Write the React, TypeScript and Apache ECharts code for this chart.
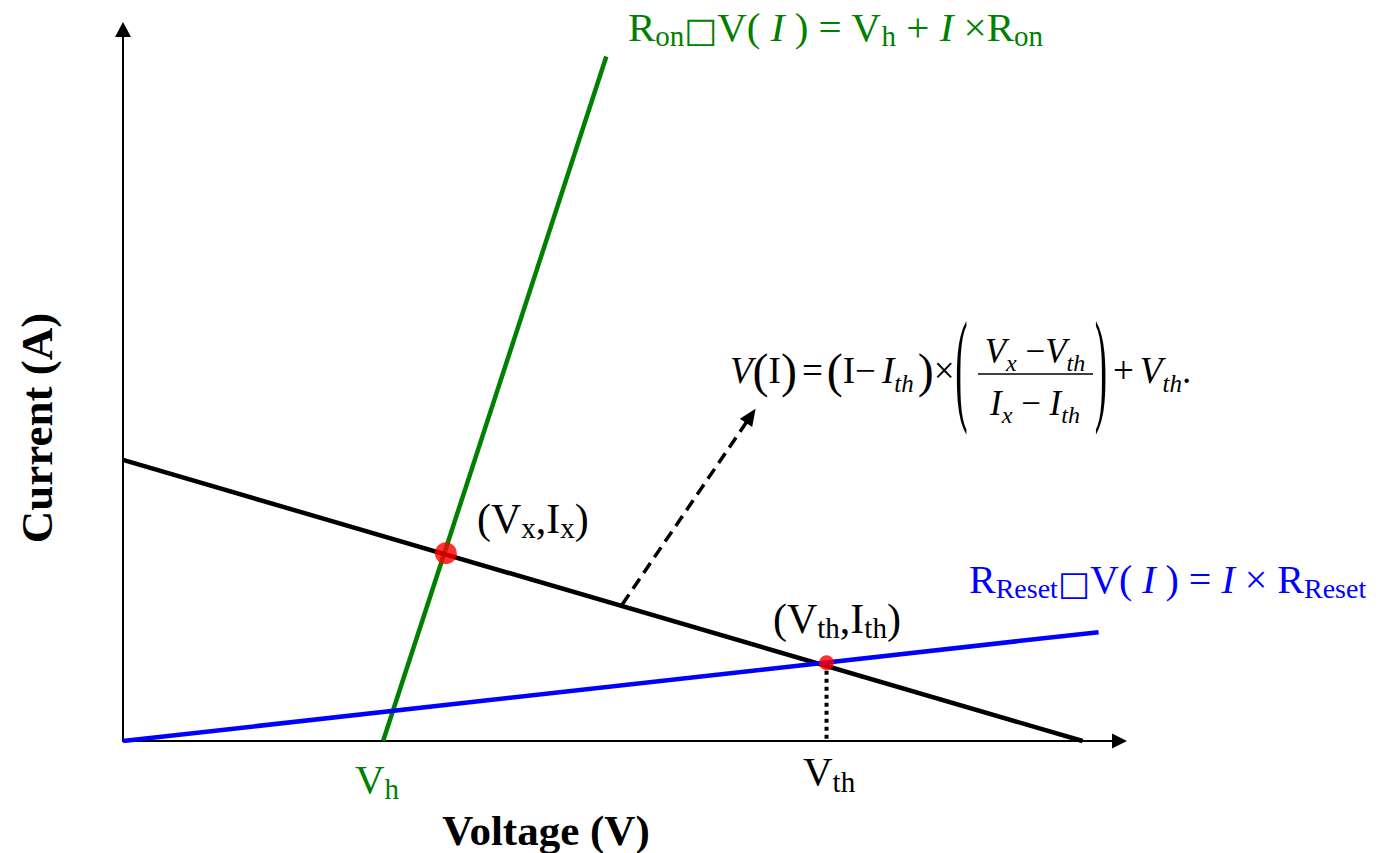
import React, { useEffect, useRef } from "react";
import * as echarts from "echarts";

// ---- data (chart units: Voltage 0..10, Current 0..10) ----
const axisMaxV = 10;
const axisMaxI = 10;
const ronV = [2.61, 4.85];
const ronI = [0, 9.62];
const loadV = [0, 9.63];
const loadI = [3.95, 0];
const resetV = [0, 9.79];
const resetI = [0, 1.53];
const pointX = [3.24, 2.64]; // (Vx, Ix)
const pointTh = [7.06, 1.1]; // (Vth, Ith)
const arrowFrom = [5.01, 1.92];
const arrowTo = [6.3, 4.57];

const FONT = '"Liberation Serif", "Times New Roman", serif';
const GREEN = "#008000";
const BLUE = "#0000ff";
const RED = "#ff0000";
const BLACK = "#000000";

function labelRich(color: string, S: number, s: number, p: number) {
  return {
    n: { fontFamily: FONT, fontSize: S, fill: color, verticalAlign: "bottom", padding: [0, 0, p, 0] },
    i: { fontFamily: FONT, fontSize: S, fontStyle: "italic", fill: color, verticalAlign: "bottom", padding: [0, 0, p, 0] },
    s: { fontFamily: FONT, fontSize: s, fill: color, verticalAlign: "bottom" },
    si: { fontFamily: FONT, fontSize: s, fontStyle: "italic", fill: color, verticalAlign: "bottom" },
    b: { fontFamily: '"DejaVu Sans", sans-serif', fontSize: S * 0.85, fill: color, verticalAlign: "bottom", padding: [0, 0, p, 0] },
  };
}

function mathRich(S: number, s: number, p: number, P: number, pp: number) {
  const base = labelRich(BLACK, S, s, p) as any;
  base.pr = { fontFamily: FONT, fontSize: P, fill: BLACK, verticalAlign: "bottom", padding: [0, 0, pp, 0] };
  base.ng = { fontFamily: FONT, fontSize: S, fill: BLACK, verticalAlign: "bottom", padding: [0, 0, p, 5] };
  base.prg = { fontFamily: FONT, fontSize: P, fill: BLACK, verticalAlign: "bottom", padding: [0, 0, pp, 4] };
  base.ig = { fontFamily: FONT, fontSize: S, fontStyle: "italic", fill: BLACK, verticalAlign: "bottom", padding: [0, 0, p, 6] };
  return base;
}

function txt(x: number, y: number, text: string, rich: any, align = "left", vAlign = "bottom", extra: any = {}) {
  return {
    type: "text",
    x,
    y,
    silent: true,
    ...extra,
    style: {
      text,
      rich,
      fill: BLACK,
      font: `40px ${FONT}`,
      align,
      verticalAlign: vAlign,
      textAlign: align,
      textVerticalAlign: vAlign,
    },
  };
}

function plain(x: number, y: number, text: string, font: string, align = "center", vAlign = "middle", extra: any = {}) {
  return {
    type: "text",
    x,
    y,
    silent: true,
    ...extra,
    style: {
      text,
      fill: BLACK,
      font,
      align,
      verticalAlign: vAlign,
      textAlign: align,
      textVerticalAlign: vAlign,
    },
  };
}

export default function App() {
  const ref = useRef<HTMLDivElement>(null);
  useEffect(() => {
    const chart = echarts.init(ref.current!, null, { renderer: "svg" });
    const greenRich = labelRich(GREEN, 41, 29, 3);
    const blueRich = labelRich(BLUE, 40, 28, 3);
    const blackRich = labelRich(BLACK, 42, 29, 3);
    const vhRich = labelRich(GREEN, 41, 29, 4);
    const vthRich = labelRich(BLACK, 41, 29, 5);
    const formRich = mathRich(37, 25, 7, 48, 2);
    const fracRich = labelRich(BLACK, 35, 24, 6);

    const option: any = {
      animation: false,
      backgroundColor: "#ffffff",
      grid: { left: 123, right: 258.5, top: 29.5, bottom: 112 },
      xAxis: {
        type: "value",
        min: 0,
        max: axisMaxV,
        axisLine: {
          show: true,
          onZero: false,
          symbol: ["none", "triangle"],
          symbolSize: [15, 15],
          lineStyle: { color: BLACK, width: 2 },
        },
        axisTick: { show: false },
        axisLabel: { show: false },
        splitLine: { show: false },
      },
      yAxis: {
        type: "value",
        min: 0,
        max: axisMaxI,
        axisLine: {
          show: true,
          onZero: false,
          symbol: ["none", "triangle"],
          symbolSize: [16, 15],
          lineStyle: { color: BLACK, width: 2 },
        },
        axisTick: { show: false },
        axisLabel: { show: false },
        splitLine: { show: false },
      },
      series: [
        {
          name: "Ron",
          type: "line",
          data: ronV.map((v, k) => [v, ronI[k]]),
          symbol: "none",
          lineStyle: { color: GREEN, width: 4.5 },
          z: 3,
        },
        {
          name: "RReset",
          type: "line",
          data: resetV.map((v, k) => [v, resetI[k]]),
          symbol: "none",
          lineStyle: { color: BLUE, width: 4.5 },
          z: 4,
        },
        {
          name: "Load",
          type: "line",
          data: loadV.map((v, k) => [v, loadI[k]]),
          symbol: "none",
          lineStyle: { color: BLACK, width: 4.5 },
          z: 3,
          markLine: {
            silent: true,
            symbol: ["none", "triangle"],
            symbolSize: [15, 17],
            label: { show: false },
            lineStyle: { color: BLACK, width: 3.5, type: [12, 7] },
            data: [[{ coord: arrowFrom }, { coord: arrowTo }]],
          },
        },
        {
          name: "Vth drop",
          type: "line",
          data: [
            [pointTh[0], pointTh[1]],
            [pointTh[0], 0],
          ],
          symbol: "none",
          lineStyle: { color: BLACK, width: 4, type: [4, 4] },
          z: 2,
        },
        {
          name: "points",
          type: "scatter",
          data: [
            { value: pointX, symbolSize: 22 },
            { value: pointTh, symbolSize: 15 },
          ],
          itemStyle: { color: RED },
          z: 10,
        },
      ],
      graphic: [
        txt(628, 50.5, "{n|R}{s|on}{b|□}{n|V( }{i|I}{n| ) = V}{s|h}{n| + }{i|I}{n| ×R}{s|on}", greenRich),
        txt(969, 602.5, "{n|R}{s|Reset}{b|□}{n|V( }{i|I}{n| ) = }{i|I}{n| × R}{s|Reset}", blueRich),
        txt(477, 542.5, "{n|(V}{s|x}{n|,I}{s|x}{n|)}", blackRich),
        txt(773, 642.5, "{n|(V}{s|th}{n|,I}{s|th}{n|)}", blackRich),
        txt(355, 803.5, "{n|V}{s|h}", vhRich),
        txt(803, 796.5, "{n|V}{s|th}", vthRich),
        // formula
        txt(730, 396, "{i|V}{pr|(}{n|I}{pr|)}{ng|=}{prg|(}{n|I−}{ig|I}{si|th}{prg|)}{n|×}", formRich),
        plain(961.5, 366, "(", `37px ${FONT}`, "center", "middle", { scaleY: 3.35 }),
        txt(1035, 374.7, "{i|V}{si|x}{n| −}{i|V}{si|th}", fracRich, "center"),
        {
          type: "line",
          silent: true,
          shape: { x1: 978, y1: 374, x2: 1093, y2: 374 },
          style: { stroke: BLACK, lineWidth: 1.5 },
        },
        txt(1035, 426.7, "{i|I}{si|x}{n| − }{i|I}{si|th}", fracRich, "center"),
        plain(1101, 366, ")", `37px ${FONT}`, "center", "middle", { scaleY: 3.35 }),
        txt(1113, 396, "{n|+}{ig|V}{si|th}{n|.}", formRich),
        // axis titles
        plain(546, 830, "Voltage (V)", `bold 43px ${FONT}`),
        plain(37, 428, "Current (A)", `bold 45px ${FONT}`, "center", "middle", { rotation: Math.PI / 2 }),
      ],
    };
    chart.setOption(option);
    return () => chart.dispose();
  }, []);
  return (
    <div
      ref={ref}
      style={{ position: "fixed", left: 0, top: 0, width: 1378, height: 853, background: "#fff" }}
    />
  );
}
